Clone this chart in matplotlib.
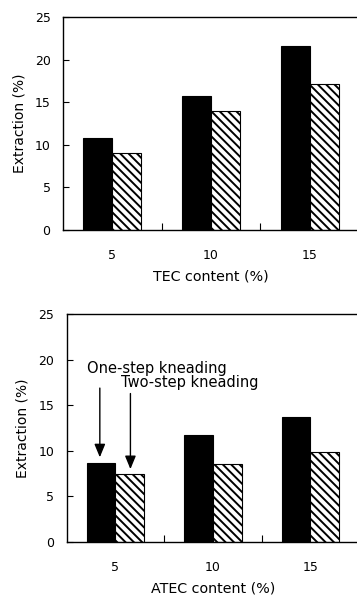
import matplotlib
matplotlib.use("Agg")
import matplotlib.pyplot as plt
import numpy as np

plt.rcParams['font.family'] = ['DejaVu Sans']
plt.rcParams['hatch.linewidth'] = 1.4

categories = ["5", "10", "15"]
tec_one_step = [10.8, 15.7, 21.6]
tec_two_step = [9.1, 14.0, 17.2]
atec_one_step = [8.7, 11.7, 13.7]
atec_two_step = [7.5, 8.6, 9.9]
yticks = [0, 5, 10, 15, 20, 25]

fig = plt.figure(figsize=(3.57, 5.97), dpi=100)
W, H = 357, 597

def make_ax(left, top, bottom, right):
    return fig.add_axes([left / W, 1 - bottom / H, (right - left) / W, (bottom - top) / H])

ax1 = make_ax(63, 17.3, 230, 359)
ax2 = make_ax(66.7, 314.3, 542, 359)

x = np.arange(len(categories))
bw = 0.295

def draw(ax, one, two, xlabel):
    ax.bar(x - bw / 2, one, bw, color='black', edgecolor='black', linewidth=0.8)
    ax.bar(x + bw / 2, two, bw, color='white', edgecolor='black', hatch='\\\\\\\\', linewidth=0.8)
    ax.set_xlim(-0.5, 2.5)
    ax.set_ylim(0, 25)
    ax.set_yticks(yticks)
    ax.set_xticks(x)
    ax.set_xticklabels(categories)
    ax.set_xticks([0.5, 1.5], minor=True)
    ax.tick_params(axis='x', which='major', length=0, pad=14, labelsize=9)
    ax.tick_params(axis='x', which='minor', direction='in', length=5, width=0.8)
    ax.tick_params(axis='y', direction='in', length=4, width=0.8, labelsize=9, pad=9)
    ax.set_xlabel(xlabel, fontsize=10.3, labelpad=5)
    ax.set_ylabel('Extraction (%)', fontsize=10, labelpad=6)
    for s in ax.spines.values():
        s.set_linewidth(1.0)

draw(ax1, tec_one_step, tec_two_step, 'TEC content (%)')
draw(ax2, atec_one_step, atec_two_step, 'ATEC content (%)')

arrowprops = dict(arrowstyle='-|>,head_width=0.33,head_length=0.8', color='black', lw=1.0, shrinkA=0, shrinkB=0)
ax2.annotate('', xy=(-0.16, 9.3), xytext=(-0.16, 16.9), arrowprops=arrowprops)
ax2.annotate('', xy=(0.154, 8.0), xytext=(0.154, 16.3), arrowprops=arrowprops)
ax2.text(-0.29, 19.1, 'One-step kneading', fontsize=10.5, va='center', ha='left')
ax2.text(0.058, 17.5, 'Two-step kneading', fontsize=10.5, va='center', ha='left')

fig.savefig('out.png', dpi=100)
